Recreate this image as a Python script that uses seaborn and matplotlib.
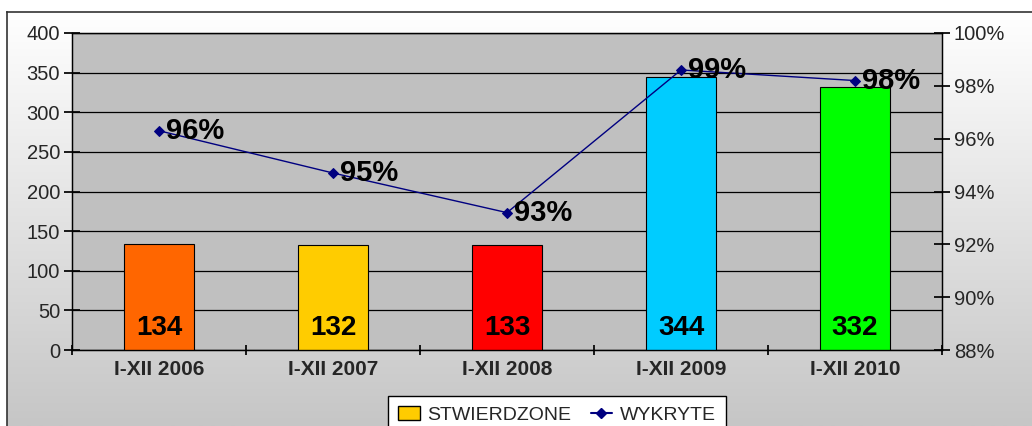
import numpy as np
import pandas as pd
import matplotlib
matplotlib.use("Agg")
import matplotlib.pyplot as plt
import seaborn as sns
from matplotlib.patches import Patch
from matplotlib.lines import Line2D

categories = ["I-XII 2006", "I-XII 2007", "I-XII 2008", "I-XII 2009", "I-XII 2010"]
stwierdzone = [134, 132, 133, 344, 332]
wykryte_pct = [96.3, 94.7, 93.2, 98.6, 98.2]
wykryte_labels = ["96%", "95%", "93%", "99%", "98%"]
bar_colors = ["#FF6600", "#FFCC00", "#FF0000", "#00CCFF", "#00FF00"]
left_ticks = [0, 50, 100, 150, 200, 250, 300, 350, 400]
right_ticks = [88, 90, 92, 94, 96, 98, 100]
right_tick_labels = ["88%", "90%", "92%", "94%", "96%", "98%", "100%"]

sns.set_theme(style="white")
plt.rcParams['font.family'] = ['Liberation Sans', 'DejaVu Sans']

W, H = 1032, 426
fig = plt.figure(figsize=(W / 100, H / 100), dpi=100)
fig.patch.set_facecolor("white")

# background gradient frame
bg = fig.add_axes([7 / W, 0, 1 - 7 / W, (H - 12) / H])
grad = np.linspace(0, 1, 256).reshape(-1, 1)
cmap = matplotlib.colors.LinearSegmentedColormap.from_list("g", ["#FFFFFF", "#C6C6C6"])
bg.imshow(grad, aspect="auto", cmap=cmap, extent=[0, 1, 0, 1], origin="upper")
bg.set_xlim(0, 1); bg.set_ylim(0, 1)
bg.set_xticks([]); bg.set_yticks([])
for s in ["right", "bottom"]:
    bg.spines[s].set_visible(False)
for s in ["left", "top"]:
    bg.spines[s].set_color("#333333")
    bg.spines[s].set_linewidth(1.2)

ax = fig.add_axes([72 / W, (H - 350) / H, 870 / W, 317 / H])
ax.set_facecolor("#C0C0C0")
df = pd.DataFrame({"cat": categories, "val": stwierdzone})
sns.barplot(data=df, x="cat", y="val", hue="cat", palette=bar_colors, dodge=False,
            saturation=1, width=0.4, edgecolor="black", linewidth=0.8, legend=False, ax=ax, zorder=3)
ax.set_ylim(0, 400)
ax.set_xlim(-0.5, 4.5)
ax.set_yticks(left_ticks)
ax.yaxis.grid(True, color="black", linewidth=0.9)
ax.set_axisbelow(True)
ax.set_xlabel(""); ax.set_ylabel("")
ax.set_xticks(np.arange(-0.5, 5, 1.0))
ax.set_xticklabels([])
ax.set_xticks(np.arange(5), minor=True)
ax.set_xticklabels(categories, minor=True, fontsize=15, fontweight="bold")
ax.tick_params(axis="x", which="major", direction="inout", length=7, color="black", bottom=True)
ax.tick_params(axis="x", which="minor", length=0, pad=7)
ax.tick_params(axis="y", direction="inout", length=11, color="black", labelsize=14.5, left=True, pad=3)
for s in ax.spines.values():
    s.set_color("black"); s.set_linewidth(0.9)

for i, v in enumerate(stwierdzone):
    ax.text(i, 28, str(v), ha="center", va="center", fontsize=20, fontweight="bold", color="black", zorder=5)

ax2 = ax.twinx()
ldf = pd.DataFrame({"x": np.arange(5), "y": wykryte_pct})
sns.lineplot(data=ldf, x="x", y="y", ax=ax2, color="#000080", linewidth=1.0,
             marker="D", markersize=5, markeredgecolor="#000080", markerfacecolor="#000080", zorder=6)
ax2.set_ylim(88, 100)
ax2.set_yticks(right_ticks)
ax2.set_yticklabels(right_tick_labels)
ax2.set_ylabel(""); ax2.set_xlabel("")
ax2.tick_params(axis="y", direction="inout", length=11, color="black", labelsize=14.5, right=True, pad=3)
ax2.grid(False)
for s in ax2.spines.values():
    s.set_color("black"); s.set_linewidth(0.9)
for i, (p, lab) in enumerate(zip(wykryte_pct, wykryte_labels)):
    ax2.text(i + 0.04, p, lab, ha="left", va="center", fontsize=21, fontweight="bold", color="black", zorder=7)

handles = [Patch(facecolor="#FFCC00", edgecolor="black", label="STWIERDZONE"),
           Line2D([0], [0], color="#000080", marker="D", markersize=5, label="WYKRYTE")]
leg = fig.legend(handles=handles, loc="lower center", bbox_to_anchor=(557 / W, -0.04), ncol=2,
                 fontsize=14, frameon=True, fancybox=False, edgecolor="black", framealpha=1,
                 handlelength=1.1, handletextpad=0.4, columnspacing=1.0, borderpad=0.5)
leg.get_frame().set_linewidth(1.0)

fig.savefig("out.png", dpi=100)
